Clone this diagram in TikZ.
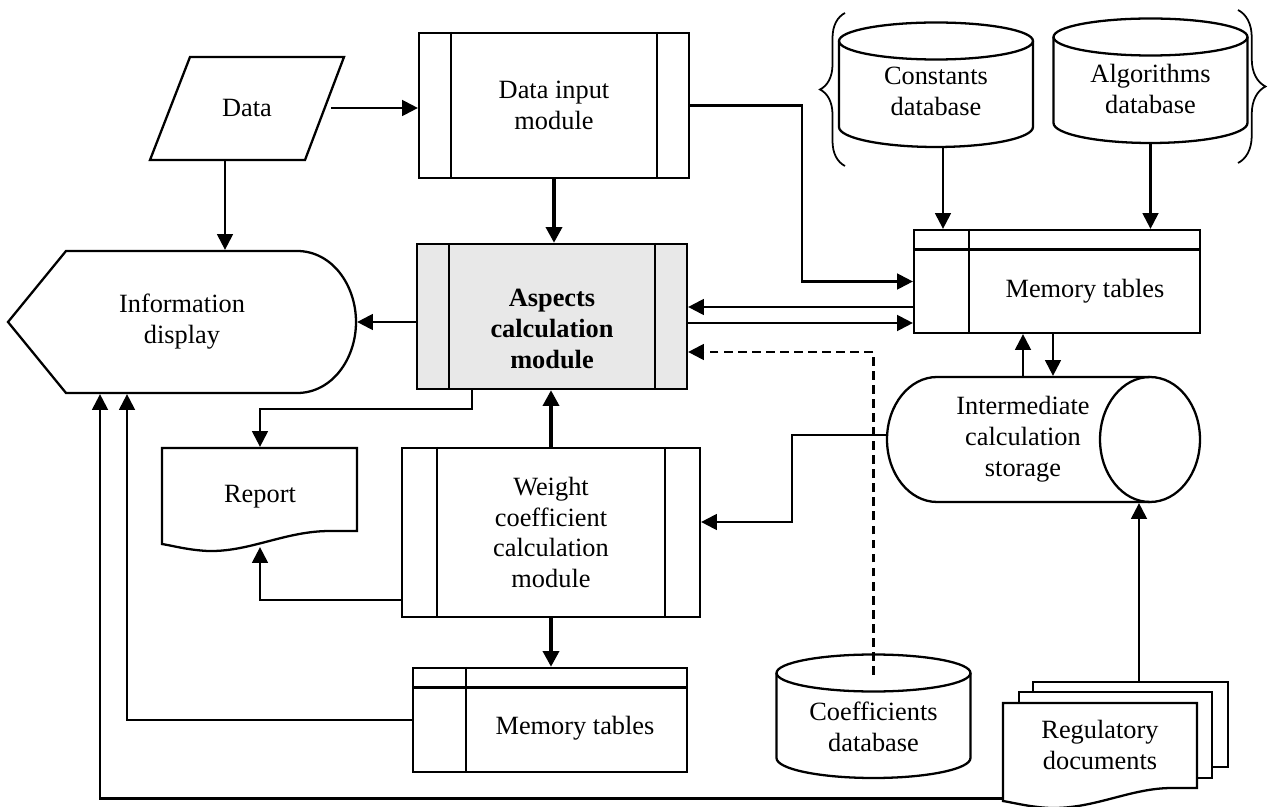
\documentclass[tikz,border=0pt]{standalone}
\usepackage{fontspec}
\setmainfont{Liberation Serif}
\usetikzlibrary{calc}
\usetikzlibrary{arrows.meta}
\usetikzlibrary{decorations.pathreplacing}

\tikzset{
  txt/.style={font=\fontsize{15}{17.6}\selectfont, align=center, inner sep=0pt},
  box/.style={txt, draw},
  heavy/.style={line width=2.6pt},
  dashline/.style={dash pattern=on 5pt off 3pt},
  curly/.style={line width=1pt, decorate, decoration={brace, amplitude=#1}}
}

\begin{document}
\begin{tikzpicture}[x=0.02cm, y=-0.02cm, line width=1.3pt,
  >={Triangle[length=9pt,width=9pt]}]
\useasboundingbox (0,0) rectangle (1271,807);

% data, display, report
\draw (190,57) -- (344,57) -- (305,160) -- (150,160) -- cycle;
\node[txt, minimum width=3.32cm, minimum height=2.06cm] (data) at (247,108) {Data};

\draw (8,322) -- (66,251) -- (297,251) .. controls (332,251) and (356,285) .. (356,322)
  .. controls (356,359) and (332,393) .. (297,393) -- (66,393) -- cycle;
\node[txt, minimum width=6.96cm, minimum height=2.84cm] (disp) at (182,322) {Information\\display};

\draw (162,448) -- (357,448) -- (357,531) -- (330,531)
  .. controls (285,531) and (250,552) .. (208,551)
  .. controls (188,550) and (174,546) .. (162,544) -- cycle;
\node[txt, minimum width=3.9cm, minimum height=1.96cm] (rep) at (260,497) {Report};

% modules
\node[box, minimum width=5.4cm, minimum height=2.9cm] (dim) at (554,105.5) {Data input\\module};
\node[box, fill=black!9, minimum width=5.4cm, minimum height=2.9cm] (acm) at (552,316.5) {};
\node[txt, font=\fontsize{15}{17.6}\selectfont\bfseries] (acm-t) at (552,329) {Aspects\\calculation\\module};
\node[box, minimum width=5.96cm, minimum height=3.38cm] (wcm) at (551,532.5) {Weight\\coefficient\\calculation\\module};
\foreach \m/\w in {dim/0.66cm, acm/0.66cm, wcm/0.72cm} {
  \draw ([xshift=\w]\m.north west) -- ([xshift=\w]\m.south west);
  \draw ([xshift=-\w]\m.north east) -- ([xshift=-\w]\m.south east);
}

% memory tables
\node[box, minimum width=5.72cm, minimum height=2.06cm] (mtop) at (1057,281.5) {};
\node[txt] (mtop-t) at (1085,291) {Memory tables};
\node[box, minimum width=5.48cm, minimum height=2.08cm] (mbot) at (550,720) {};
\node[txt] (mbot-t) at (575,728) {Memory tables};
\foreach \m/\c in {mtop/1.12cm, mbot/1.08cm} {
  \draw ([yshift=-0.41cm]\m.north west) -- ([yshift=-0.41cm]\m.north east);
  \draw ([xshift=\c]\m.north west) -- ([xshift=\c]\m.south west);
}

% storage
\draw (1150,377) -- (937,377) arc[start angle=90, end angle=270, x radius=1cm, y radius=1.25cm] -- (1150,502);
\draw (1150,439.5) ellipse[x radius=1cm, y radius=1.25cm];
\node[txt, minimum width=5.44cm, minimum height=2.5cm] (sto) at (1023,439.5) {Intermediate\\calculation\\storage};

% databases
\foreach \cx/\cy/\by in {936/41/127, 1150.5/37/123, 873.5/673/758} {
  \draw (\cx,\cy) ellipse[x radius=1.94cm, y radius=0.37cm];
  \draw (\cx-97,\cy) -- (\cx-97,\by) arc[start angle=180, end angle=360, x radius=1.94cm, y radius=0.4cm] -- (\cx+97,\cy);
}
\node[txt, minimum width=3.88cm, minimum height=2.24cm] (cdb) at (936,91) {Constants\\database};
\node[txt, minimum width=3.9cm, minimum height=2.16cm] (adb) at (1150.5,89) {Algorithms\\database};
\node[txt, minimum width=3.9cm, minimum height=2.04cm] (kdb) at (873.5,727) {Coefficients\\database};
\draw[curly=0.5cm] (845,166) -- (845,13);
\draw[curly=0.55cm] (1238,10) -- (1238,163);

% regulatory documents
\draw (1033,692) -- (1033,682) -- (1228,682) -- (1228,767) -- (1212,767);
\draw (1019,703) -- (1019,692) -- (1212,692) -- (1212,778) -- (1197,778);
\draw (1003,703) -- (1197,703) -- (1197,788) -- (1172,788)
  .. controls (1130,788) and (1095,809) .. (1050,808)
  .. controls (1030,807) and (1015,803) .. (1003,801) -- cycle;
\node[txt, minimum width=3.88cm, minimum height=1.9cm] (reg) at (1100,745) {Regulatory\\documents};

% connectors
\coordinate (data-out) at ([xshift=-0.44cm]data.south);
\coordinate (cdb-out) at ([xshift=0.14cm]cdb.south);
\coordinate (mtop-out) at ([yshift=-0.51cm]mtop.west);
\coordinate (acm-out) at ([yshift=-0.13cm]acm.east);
\coordinate (sto-in) at ([xshift=0.6cm]sto.north);
\coordinate (reg-top) at (1139,682);

\draw[->] (data.east) -- (data.east -| dim.west);
\draw[->] (data-out) -- (data-out |- disp.north);
\draw[->, heavy] (dim.south) -- (dim.south |- acm.north);
\draw[->] (dim.east) -- ++(112,0) |- (mtop.west);
\draw[->] (mtop-out) -- (mtop-out -| acm.east);
\draw[->] (acm-out) -- (acm-out -| mtop.west);
\draw[->, dashline] (kdb.north) |- ([yshift=-0.71cm]acm.east);
\draw[->] (disp.east -| acm.west) -- (disp.east);
\draw[->] ([xshift=1.12cm]acm.south west) -- ++(0,19) -| (rep.north);
\draw[->, heavy] (wcm.north) -- (wcm.north |- acm.south);
\draw[->] ([yshift=-1.35cm]wcm.west) -| (rep.south);
\draw[->, heavy] (wcm.south) -- (wcm.south |- mbot.north);
\draw[->] (mbot.west) -| ([xshift=-1.1cm]disp.south);
\draw[->] ([yshift=-0.1cm]reg.south west) -| ([xshift=-1.64cm]disp.south);
\draw[->] ([yshift=0.09cm]sto.west) -- ++(-94,0) |- ([yshift=0.21cm]wcm.east);
\draw[->] (sto.north) -- (sto.north |- mtop.south);
\draw[->] (sto-in |- mtop.south) -- (sto-in);
\draw[->] (cdb-out) -- (cdb-out |- mtop.north);
\draw[->] (adb.south) -- (adb.south |- mtop.north);
\draw[->] (reg-top) -- (reg-top |- sto.south);
\end{tikzpicture}
\end{document}
